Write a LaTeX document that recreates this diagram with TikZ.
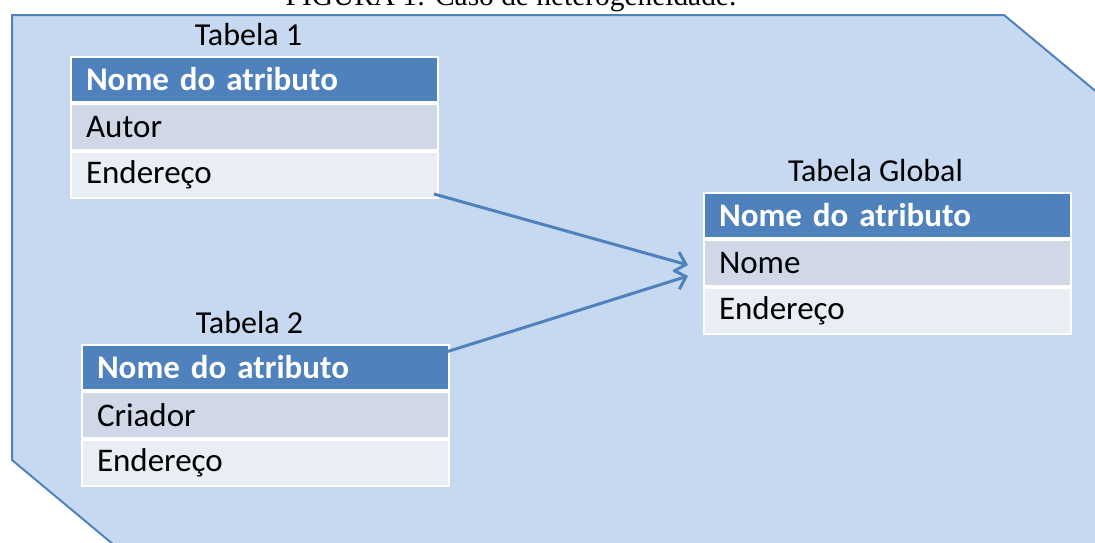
\documentclass[tikz,border=0pt]{standalone}
\usepackage{fontspec}
\setmainfont{Carlito}
\newfontfamily\capfont{Liberation Serif}
\usetikzlibrary{positioning, arrows.meta}

\definecolor{panelfill}{HTML}{C6D9F1}
\definecolor{accent}{HTML}{4F81BD}
\definecolor{rowdark}{HTML}{D0D8E8}
\definecolor{rowlight}{HTML}{E9EDF4}

\tikzset{
    cell/.style={draw=white, line width=1pt, rectangle, align=left, text width=168.5pt, inner xsep=7.5pt, inner ysep=0pt, minimum height=23pt, font=\fontsize{16.5}{18}\selectfont},
    hdr/.style={cell, fill=accent, text=white, minimum height=22.5pt, font=\fontsize{16.5}{18}\selectfont\bfseries},
    rowa/.style={cell, fill=rowdark},
    rowb/.style={cell, fill=rowlight},
    title/.style={inner sep=0pt, font=\fontsize{16}{18}\selectfont},
    flow/.style={draw=accent, line width=1.5pt, -{Straight Barb[length=5pt, width=10pt]}}
}

\begin{document}
\begin{tikzpicture}[x=0.5pt, y=-0.5pt]
    \useasboundingbox (0,0) rectangle (1095,542);
    \clip (0,0) rectangle (1095,542);

    % panel and caption
    \node (caption) [anchor=base, inner sep=0pt, font=\capfont\fontsize{14.7}{16}\selectfont] at (511,5) {FIGURA 1: Caso de heterogeneidade.};
    \draw [accent, line width=1pt, fill=panelfill] (12,15) -- (1004,15) -- (1140,128) -- (1140,600) -- (180,600) -- (12,460) -- cycle;

    % Tabela 1
    \node (t1h) [hdr, anchor=north west] at (70,56) {Nome do atributo};
    \node (t1a) [rowa, below=0pt of t1h] {Autor};
    \node (t1e) [rowb, below=0pt of t1a] {Endereço};
    \node (t1) [title, above=5pt of t1h.north, xshift=-3pt] {Tabela 1};

    % Tabela 2
    \node (t2h) [hdr, anchor=north west] at (81,344) {Nome do atributo};
    \node (t2c) [rowa, below=0pt of t2h] {Criador};
    \node (t2e) [rowb, below=0pt of t2c] {Endereço};
    \node (t2) [title, above=5pt of t2h.north, xshift=-8pt] {Tabela 2};

    % Tabela Global
    \node (glh) [hdr, anchor=north west] at (703,192) {Nome do atributo};
    \node (gln) [rowa, below=0pt of glh] {Nome};
    \node (gle) [rowb, below=0pt of gln] {Endereço};
    \node (gl) [title, above=5pt of glh.north, xshift=-6pt] {Tabela Global};

    \draw [flow] ([shift={(-2.5pt,2.5pt)}]t1e.south east) -- ([xshift=-7.5pt, yshift=-1pt]gln.west);
    \draw [flow] ([shift={(-2pt,-4pt)}]t2h.north east) -- ([xshift=-7.5pt, yshift=-6.5pt]gln.west);
\end{tikzpicture}
\end{document}
